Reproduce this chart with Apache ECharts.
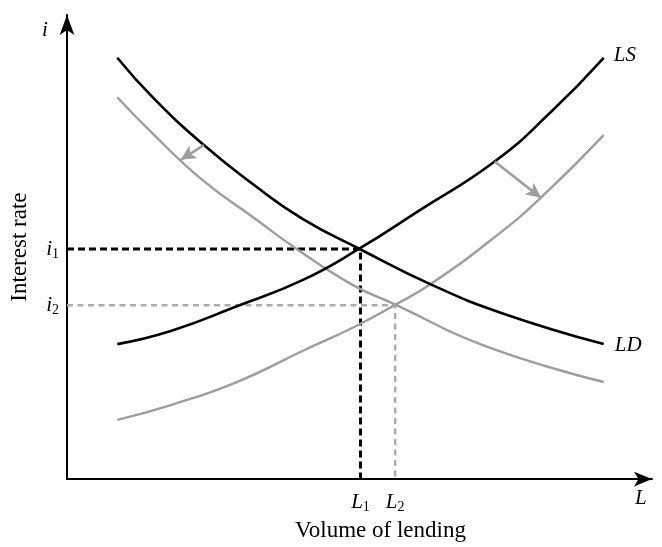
<!DOCTYPE html>
<html><head><meta charset="utf-8">
<script src="https://cdn.jsdelivr.net/npm/echarts@6/dist/echarts.min.js"></script>
<style>html,body{margin:0;padding:0;background:#fff}#c{width:662px;height:547px}</style>
</head><body><div id="c"></div>
<script>
// Curves (x = volume of lending, y = interest rate, arbitrary units)
const loanDemand   = [[50.7,426.7],[88,385],[138,338.3],[188,298.3],[238,263.3],[294.7,233.3],[368,196.7],[438,168.3],[541.3,136.7]];
const loanDemand2  = [[50.7,386.7],[88,348.3],[138,301.7],[188,265],[231.3,233.3],[288,196.7],[331.3,176.7],[421.3,135],[541.3,98.3]];
const loanSupply   = [[50.7,136.7],[104.7,150],[171.3,175],[238,201.7],[294.7,233.3],[354.7,271.7],[431.3,321.7],[488,371.7],[541.3,426.7]];
const loanSupply2  = [[50.7,60],[104.7,75],[171.3,98.3],[238,130],[288,153.3],[331.3,176.7],[368,198.3],[431.3,245],[478,285],[541.3,348.3]];
// Equilibria
const i1 = 233, L1 = 296;
const i2 = 176, L2 = 331;
// Shift arrows
const arrowDemand = [[138,338.3],[114.7,323.3]];
const arrowSupply = [[431.3,321.7],[478,285]];
// Tick labels
const xTickValues = [L1, L2];
const xTickNames  = [['L','1'],['L','2']];
const yTickValues = [i2, i1];
const yTickNames  = [['i','2'],['i','1']];
const curveNames = ['LD','LS'];

const SERIF = 'Liberation Serif';
const BLACK = '#000000', GRAY = '#9d9d9d', DGRAY = '#ababab';
const rich = {
  it:  {fontFamily: SERIF, fontStyle: 'italic', fontSize: 21, color: '#000', lineHeight: 22},
  sub: {fontFamily: SERIF, fontSize: 14, color: '#000', lineHeight: 12, padding: [10,0,0,0]}
};
function tickFmt(values, names) {
  return function (v) {
    for (let k = 0; k < values.length; k++) {
      if (Math.abs(values[k] - v) < 1e-6) return '{it|' + names[k][0] + '}{sub|' + names[k][1] + '}';
    }
    return '';
  };
}

const chart = echarts.init(document.getElementById('c'), null, {renderer: 'canvas'});
chart.setOption({
  animation: false,
  backgroundColor: '#fff',
  grid: {left: 62, right: 10, top: 15, bottom: 62, containLabel: false},
  xAxis: {
    type: 'value', min: 0, max: 590,
    name: 'Volume of lending', nameLocation: 'middle', nameGap: 33,
    nameTextStyle: {fontFamily: SERIF, fontSize: 23, color: '#000', padding: [0,0,0,42]},
    axisLine: {show: true, onZero: false, symbol: ['none','arrow'], symbolSize: [11,18], lineStyle: {color: '#000', width: 2}},
    axisTick: {show: false}, splitLine: {show: false},
    axisLabel: {customValues: xTickValues, formatter: tickFmt(xTickValues, xTickNames), rich: rich, margin: 12}
  },
  yAxis: {
    type: 'value', min: 0, max: 470,
    name: 'Interest rate', nameLocation: 'middle', nameGap: 36,
    nameTextStyle: {fontFamily: SERIF, fontSize: 23, color: '#000'},
    axisLine: {show: true, onZero: false, symbol: ['none','arrow'], symbolSize: [11,20], lineStyle: {color: '#000', width: 2}},
    axisTick: {show: false}, splitLine: {show: false},
    axisLabel: {customValues: yTickValues, formatter: tickFmt(yTickValues, yTickNames), rich: rich, margin: 8}
  },
  graphic: [
    {type: 'text', left: 42, top: 20, style: {text: 'i', font: 'italic 21px "Liberation Serif"', fill: '#000'}},
    {type: 'text', left: 635, top: 488, style: {text: 'L', font: 'italic 21px "Liberation Serif"', fill: '#000'}}
  ],
  series: [
    {type: 'line', data: [[0,i2],[L2,i2],[L2,0]], showSymbol: false, z: 1,
     lineStyle: {color: DGRAY, width: 2.4, type: [6,4.5]}},
    {type: 'line', data: [[0,i1],[L1,i1],[L1,0]], showSymbol: false, z: 1,
     lineStyle: {color: BLACK, width: 3, type: [7,4]}},
    {type: 'line', data: loanDemand2, smooth: true, showSymbol: false, z: 2,
     lineStyle: {color: GRAY, width: 2.4},
     markLine: {silent: true, symbol: ['none','arrow'], symbolSize: [11,15], label: {show: false},
       lineStyle: {color: GRAY, width: 2.6, type: 'solid'},
       data: [[{coord: arrowDemand[0]}, {coord: arrowDemand[1]}]]}},
    {type: 'line', data: loanSupply2, smooth: true, showSymbol: false, z: 2,
     lineStyle: {color: GRAY, width: 2.4},
     markLine: {silent: true, symbol: ['none','arrow'], symbolSize: [11,15], label: {show: false},
       lineStyle: {color: GRAY, width: 2.6, type: 'solid'},
       data: [[{coord: arrowSupply[0]}, {coord: arrowSupply[1]}]]}},
    {type: 'line', data: loanDemand, smooth: true, showSymbol: false, z: 3,
     lineStyle: {color: BLACK, width: 2.6},
     endLabel: {show: true, formatter: curveNames[0], distance: 11, offset: [0,1],
       fontFamily: SERIF, fontStyle: 'italic', fontSize: 21, color: '#000'}},
    {type: 'line', data: loanSupply, smooth: true, showSymbol: false, z: 3,
     lineStyle: {color: BLACK, width: 2.6},
     endLabel: {show: true, formatter: curveNames[1], distance: 10, offset: [0,-2],
       fontFamily: SERIF, fontStyle: 'italic', fontSize: 21, color: '#000'}}
  ]
});
</script>
</body></html>
